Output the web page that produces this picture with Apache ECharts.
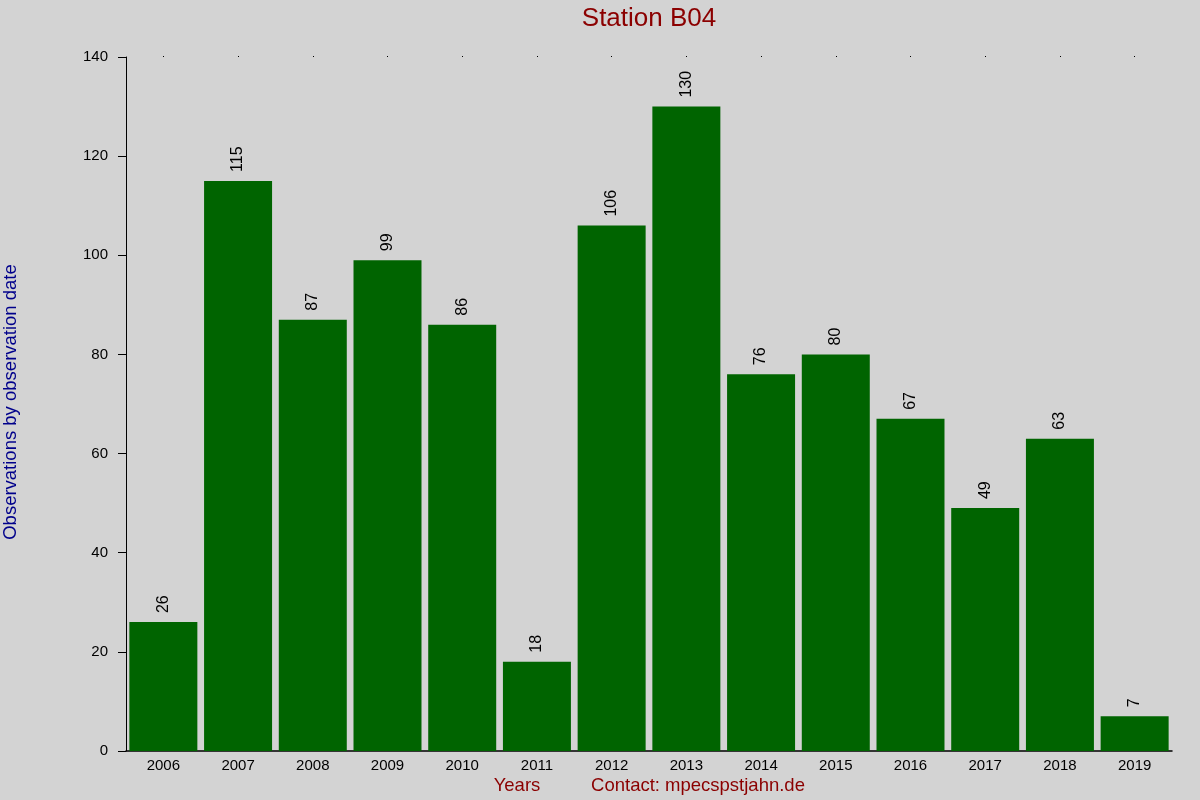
<!DOCTYPE html>
<html>
<head>
<meta charset="utf-8">
<script src="https://cdn.jsdelivr.net/npm/echarts@6/dist/echarts.min.js"></script>
<style>
  html, body { margin: 0; padding: 0; background: #d3d3d3; }
  #chart { width: 1200px; height: 800px; }
</style>
</head>
<body>
<div id="chart"></div>
<script>
// data
var years = ['2006', '2007', '2008', '2009', '2010', '2011', '2012', '2013', '2014', '2015', '2016', '2017', '2018', '2019'];
var observations = [26, 115, 87, 99, 86, 18, 106, 130, 76, 80, 67, 49, 63, 7];

var myChart = echarts.init(document.getElementById('chart'));
var font = '"Liberation Sans", Arial, sans-serif';

myChart.setOption({
    backgroundColor: '#d3d3d3',
    animation: false,
    textStyle: { fontFamily: font },
    grid: { left: 126, right: 28, top: 57, bottom: 49 },
    xAxis: [
        {
            type: 'category',
            data: years,
            axisLine: { lineStyle: { color: '#000', width: 1.5 } },
            axisTick: { show: false },
            axisLabel: { color: '#000', fontSize: 15, margin: 7, fontFamily: font }
        },
        {
            // little dots along the top edge
            type: 'category',
            position: 'top',
            data: years,
            axisLine: { show: false },
            axisTick: { show: true, alignWithLabel: true, length: 1, lineStyle: { color: '#000' } },
            axisLabel: { show: false }
        }
    ],
    yAxis: {
        type: 'value',
        min: 0,
        max: 140,
        interval: 20,
        splitLine: { show: false },
        axisLine: { show: true, lineStyle: { color: '#000', width: 1 } },
        axisTick: { show: true, length: 8, lineStyle: { color: '#000' } },
        axisLabel: { color: '#000', fontSize: 15, margin: 18, fontFamily: font }
    },
    graphic: [
        {
            type: 'text',
            x: 649,
            y: 19,
            style: {
                text: 'Station B04',
                fill: '#8b0000',
                fontSize: 26,
                fontFamily: font,
                align: 'center',
                verticalAlign: 'middle'
            }
        },
        {
            type: 'text',
            x: 11,
            y: 402,
            rotation: Math.PI / 2,
            style: {
                text: 'Observations by observation date',
                fill: '#00008b',
                fontSize: 18.5,
                fontFamily: font,
                align: 'center',
                verticalAlign: 'middle'
            }
        },
        {
            type: 'text',
            x: 517,
            y: 786,
            style: { text: 'Years', fill: '#8b0000', fontSize: 18.5, fontFamily: font, align: 'center', verticalAlign: 'middle' }
        },
        {
            type: 'text',
            x: 698,
            y: 786,
            style: { text: 'Contact: mpecspstjahn.de', fill: '#8b0000', fontSize: 18.5, fontFamily: font, align: 'center', verticalAlign: 'middle' }
        }
    ],
    series: [
        {
            name: 'Observations',
            type: 'bar',
            data: observations,
            barCategoryGap: '9%',
            itemStyle: { color: '#006400' },
            label: {
                show: true,
                position: 'top',
                rotate: 90,
                distance: 9,
                align: 'left',
                verticalAlign: 'middle',
                color: '#000',
                fontSize: 16,
                fontFamily: font
            }
        }
    ]
});
</script>
</body>
</html>
